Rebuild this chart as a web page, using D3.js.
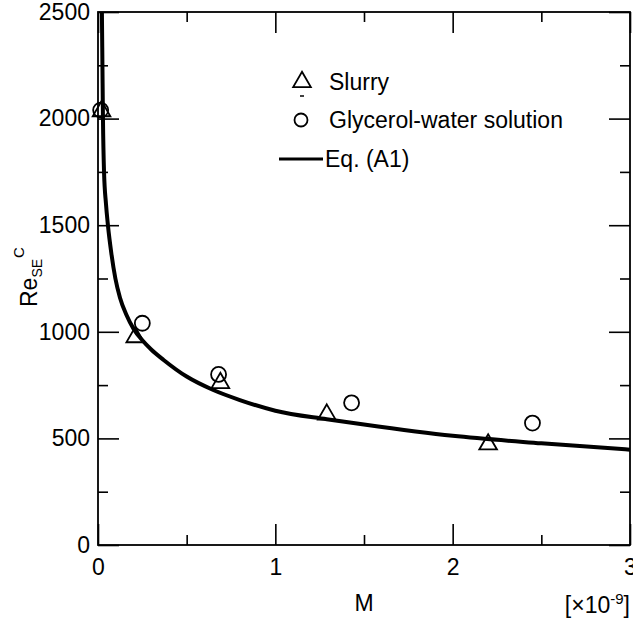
<!DOCTYPE html>
<html><head><meta charset="utf-8">
<script src="https://cdn.jsdelivr.net/npm/d3@7"></script>
<style>body{margin:0;background:#fff}svg{display:block}text{font-family:"Liberation Sans",Arial,sans-serif;fill:#000}</style>
</head><body>
<svg id="c" width="633" height="622"></svg>
<script>
// Data
const slurryM = [0.02, 0.21, 0.69, 1.29, 2.2];
const slurryRe = [2035, 975, 760, 612, 472];
const glyM = [0.015, 0.25, 0.68, 1.43, 2.45];
const glyRe = [2040, 1040, 800, 667, 572];
const eqM = [0.018, 0.022, 0.025, 0.028, 0.034, 0.045, 0.056, 0.075, 0.098, 0.124, 0.16, 0.2, 0.25, 0.3, 0.37, 0.5, 0.65, 0.8, 1.0, 1.29, 1.5, 2.0, 2.5, 3.0];
const eqRe = [2800, 2500, 2250, 2000, 1750, 1600, 1500, 1370, 1250, 1160, 1080, 1015, 960, 917, 868, 790, 727, 680, 630, 590, 565, 512, 477, 447];
const xMajor = [0, 1, 2, 3];
const xMinor = [0.5, 1.5, 2.5];
const yMajor = [0, 500, 1000, 1500, 2000, 2500];
const yMinor = [250, 750, 1250, 1750, 2250];
const legendLabels = ["Slurry", "Glycerol-water solution", "Eq. (A1)"];

const svg = d3.select("#c");
const L = 98, R = 630, T = 12, B = 545;
const x = d3.scaleLinear().domain([0, 3]).range([L, R]);
const y = d3.scaleLinear().domain([0, 2500]).range([B, T]);
const FS = 23;

function styleAxis(g) {
  g.select(".domain").remove();
  g.selectAll("line").attr("stroke", "#000").attr("stroke-width", 1.6);
}
// bottom
svg.append("g").attr("transform", `translate(0,${B})`)
  .call(d3.axisBottom(x).tickValues(xMajor).tickSize(-21).tickFormat(d3.format("d")))
  .call(styleAxis)
  .call(g => g.selectAll("text").attr("font-size", FS).attr("font-family", "Liberation Sans, Arial, sans-serif").attr("dy", null).attr("y", 30));
svg.append("g").attr("transform", `translate(0,${B})`)
  .call(d3.axisBottom(x).tickValues(xMinor).tickSize(-10).tickFormat(""))
  .call(styleAxis);
// top
svg.append("g").attr("transform", `translate(0,${T})`)
  .call(d3.axisTop(x).tickValues(xMajor).tickSize(-21).tickFormat(""))
  .call(styleAxis);
svg.append("g").attr("transform", `translate(0,${T})`)
  .call(d3.axisTop(x).tickValues(xMinor).tickSize(-10).tickFormat(""))
  .call(styleAxis);
// left
svg.append("g").attr("transform", `translate(${L},0)`)
  .call(d3.axisLeft(y).tickValues(yMajor).tickSize(-21).tickFormat(d3.format("d")))
  .call(styleAxis)
  .call(g => g.selectAll("text").attr("font-size", FS).attr("font-family", "Liberation Sans, Arial, sans-serif").attr("x", -8));
svg.append("g").attr("transform", `translate(${L},0)`)
  .call(d3.axisLeft(y).tickValues(yMinor).tickSize(-10).tickFormat(""))
  .call(styleAxis);
// right
svg.append("g").attr("transform", `translate(${R},0)`)
  .call(d3.axisRight(y).tickValues(yMajor).tickSize(-21).tickFormat(""))
  .call(styleAxis);
svg.append("g").attr("transform", `translate(${R},0)`)
  .call(d3.axisRight(y).tickValues(yMinor).tickSize(-10).tickFormat(""))
  .call(styleAxis);

// frame
svg.append("rect").attr("x", L).attr("y", T).attr("width", R - L).attr("height", B - T)
  .attr("fill", "none").attr("stroke", "#000").attr("stroke-width", 1.8);

// clip
svg.append("clipPath").attr("id", "clip").append("rect")
  .attr("x", L).attr("y", T).attr("width", R - L).attr("height", B - T);

// curve
const eqData = eqM.map((m, i) => [m, eqRe[i]]);
svg.append("path").datum(eqData).attr("clip-path", "url(#clip)")
  .attr("fill", "none").attr("stroke", "#000").attr("stroke-width", 4)
  .attr("d", d3.line().x(d => x(d[0])).y(d => y(d[1])).curve(d3.curveMonotoneX));

// markers
const tri = d3.symbol().type(d3.symbolTriangle).size(135);
svg.append("g").selectAll("path").data(slurryM.map((m, i) => [m, slurryRe[i]])).join("path")
  .attr("d", tri).attr("transform", d => `translate(${x(d[0])},${y(d[1])})`)
  .attr("fill", "none").attr("stroke", "#000").attr("stroke-width", 1.8);
svg.append("g").selectAll("circle").data(glyM.map((m, i) => [m, glyRe[i]])).join("circle")
  .attr("cx", d => x(d[0])).attr("cy", d => y(d[1])).attr("r", 7.5)
  .attr("fill", "none").attr("stroke", "#000").attr("stroke-width", 1.8);

// legend
const lg = svg.append("g");
lg.append("path").attr("d", tri).attr("transform", "translate(302,82)")
  .attr("fill", "none").attr("stroke", "#000").attr("stroke-width", 1.8);
lg.append("line").attr("x1", 300).attr("x2", 304).attr("y1", 96).attr("y2", 96).attr("stroke", "#000").attr("stroke-width", 1.5);
lg.append("circle").attr("cx", 301).attr("cy", 120).attr("r", 6.5)
  .attr("fill", "none").attr("stroke", "#000").attr("stroke-width", 1.8);
lg.append("line").attr("x1", 279).attr("x2", 323).attr("y1", 159).attr("y2", 159)
  .attr("stroke", "#000").attr("stroke-width", 3);
const ly = [82, 120, 159];
lg.selectAll("text").data(legendLabels).join("text")
  .attr("x", (d, i) => i === 2 ? 325 : 329).attr("y", (d, i) => ly[i]).attr("dy", "0.35em")
  .attr("font-size", FS).text(d => d);

// axis titles
svg.append("text").attr("x", 364).attr("y", 603).attr("dy", "0.35em").attr("text-anchor", "middle")
  .attr("font-size", FS).text("M");
const xu = svg.append("text").attr("x", 630).attr("y", 605).attr("dy", "0.35em").attr("text-anchor", "end").attr("font-size", FS);
xu.append("tspan").text("[×10");
xu.append("tspan").attr("dy", -9).attr("font-size", 15).text("-9");
xu.append("tspan").attr("dy", 9).text("]");

const yt = svg.append("text").attr("transform", "translate(37,307) rotate(-90)").attr("font-size", FS);
yt.append("tspan").text("Re");
yt.append("tspan").attr("dy", 5).attr("font-size", 14).text("SE");
yt.append("tspan").attr("dy", -18).attr("dx", 1).attr("font-size", 15).text("C");
</script>
</body></html>
